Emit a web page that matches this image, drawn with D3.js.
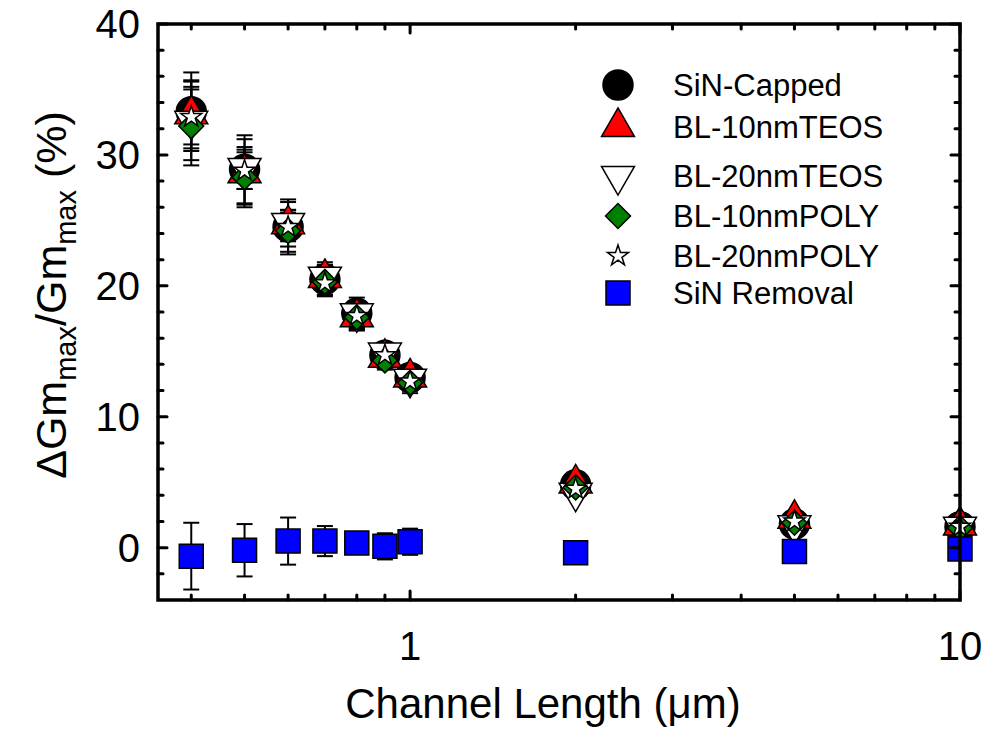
<!DOCTYPE html>
<html><head><meta charset="utf-8">
<script src="https://cdn.jsdelivr.net/npm/d3@7"></script>
<style>body{margin:0;background:#fff}svg{display:block}text{font-family:"Liberation Sans",Arial,sans-serif;fill:#000}</style>
</head><body><svg id="c" width="985" height="747"></svg>
<script>
const lengths = [0.4, 0.5, 0.6, 0.7, 0.8, 0.9, 1, 2, 5, 10];
const sinCapped    = [33.3, 28.9, 24.5, 20.5, 17.9, 14.7, 13.0, 4.8, 1.8, 1.6];
const sinCappedErr = [3.0, 2.6, 2.1, 1.3, 1.2, 0.8, 0.9, 0.3, 0.3, 0.3];
const bl10Teos     = [33.1, 28.6, 24.7, 20.6, 17.6, 14.5, 13.0, 4.9, 2.2, 1.7];
const bl10TeosErr  = [2.6, 2.6, 1.7, 1.0, 1.0, 0.7, 0.8, 0.3, 0.3, 0.3];
const bl20Teos     = [32.6, 29.0, 24.8, 20.7, 17.9, 14.9, 12.9, 4.2, 1.7, 1.6];
const bl20TeosErr  = [3.0, 1.6, 1.0, 0.9, 0.9, 0.6, 0.7, 0.3, 0.3, 0.3];
const bl10Poly     = [32.2, 28.3, 24.2, 20.3, 17.6, 14.3, 12.6, 4.6, 1.9, 1.5];
const bl10PolyErr  = [3.0, 2.1, 1.6, 1.0, 1.0, 0.7, 0.8, 0.3, 0.3, 0.3];
const bl20Poly     = [32.9, 28.8, 24.5, 20.2, 17.7, 14.7, 12.7, 4.5, 2.0, 1.6];
const bl20PolyErr  = [2.1, 1.4, 1.1, 0.9, 0.9, 0.6, 0.7, 0.3, 0.3, 0.3];
const sinRemoval    = [-0.65, -0.2, 0.5, 0.5, 0.35, 0.1, 0.45, -0.4, -0.3, -0.1];
const sinRemovalErr = [2.55, 2.0, 1.8, 1.15, 0.5, 1.0, 1.0, 0.3, 0.3, 0.3];

const seriesNames = ["SiN-Capped", "BL-10nmTEOS", "BL-20nmTEOS", "BL-10nmPOLY", "BL-20nmPOLY", "SiN Removal"];
const yTickLabels = [0, 10, 20, 30, 40];
const xTickLabels = [1, 10];
const xMinorTicks = [0.4, 0.5, 0.6, 0.7, 0.8, 0.9, 2, 3, 4, 5, 6, 7, 8, 9];
const yMinorTicks = [-2, 2, 4, 6, 8, 12, 14, 16, 18, 22, 24, 26, 28, 32, 34, 36, 38];

const L = 158, R = 960, T = 24, B = 600;
const x = d3.scaleLog().domain([0.348, 10]).range([L, R]);
const y = d3.scaleLinear().domain([-4, 40]).range([B, T]);
const svg = d3.select("#c");

const series = [
  {name: seriesNames[0], v: sinCapped, e: sinCappedErr, type: d3.symbolCircle, size: 707, fill: "#000", rot: 0},
  {name: seriesNames[1], v: bl10Teos, e: bl10TeosErr, type: d3.symbolTriangle, size: 471, fill: "#ff0000", rot: 0},
  {name: seriesNames[2], v: bl20Teos, e: bl20TeosErr, type: d3.symbolTriangle, size: 471, fill: "#fff", rot: 180},
  {name: seriesNames[3], v: bl10Poly, e: bl10PolyErr, type: d3.symbolSquare, size: 312, fill: "#008000", rot: 45},
  {name: seriesNames[4], v: bl20Poly, e: bl20PolyErr, type: d3.symbolStar, size: 136, fill: "#fff", rot: 0},
  {name: seriesNames[5], v: sinRemoval, e: sinRemovalErr, type: d3.symbolSquare, size: 576, fill: "#0000ff", rot: 0}
];

// error bars
const eg = svg.append("g");
series.forEach(s => {
  lengths.forEach((len, i) => {
    const cx = x(len), y1 = y(s.v[i] + s.e[i]), y2 = y(s.v[i] - s.e[i]);
    eg.append("line").attr("x1", cx).attr("x2", cx).attr("y1", y1).attr("y2", y2).attr("stroke", "#000").attr("stroke-width", 2);
    [y1, y2].forEach(yy => eg.append("line").attr("x1", cx - 8).attr("x2", cx + 8).attr("y1", yy).attr("y2", yy).attr("stroke", "#000").attr("stroke-width", 2));
  });
});

// markers
series.forEach(s => {
  const sym = d3.symbol().type(s.type).size(s.size);
  svg.append("g").selectAll("path").data(lengths).join("path")
    .attr("d", sym)
    .attr("transform", (d, i) => `translate(${x(d)},${y(s.v[i])}) rotate(${s.rot})`)
    .attr("fill", s.fill).attr("stroke", "#000").attr("stroke-width", 1.5);
});

// frame
svg.append("rect").attr("x", L).attr("y", T).attr("width", R - L).attr("height", B - T)
  .attr("fill", "none").attr("stroke", "#000").attr("stroke-width", 3.5);

// ticks (inward, all four sides)
const tg = svg.append("g").attr("stroke", "#000").attr("stroke-width", 3).attr("stroke-linecap", "round");
function xTick(v, len) {
  tg.append("line").attr("x1", x(v)).attr("x2", x(v)).attr("y1", B).attr("y2", B - len);
  tg.append("line").attr("x1", x(v)).attr("x2", x(v)).attr("y1", T).attr("y2", T + len);
}
function yTick(v, len) {
  tg.append("line").attr("y1", y(v)).attr("y2", y(v)).attr("x1", L).attr("x2", L + len);
  tg.append("line").attr("y1", y(v)).attr("y2", y(v)).attr("x1", R).attr("x2", R - len);
}
xMinorTicks.forEach(v => xTick(v, 5));
xTickLabels.forEach(v => xTick(v, 9));
yMinorTicks.forEach(v => yTick(v, 5));
yTickLabels.forEach(v => yTick(v, 9));

// tick labels
svg.append("g").selectAll("text").data(yTickLabels).join("text")
  .attr("x", L - 18).attr("y", d => y(d)).attr("text-anchor", "end").attr("dominant-baseline", "central")
  .attr("font-size", 40).text(d => d);
svg.append("g").selectAll("text").data(xTickLabels).join("text")
  .attr("x", d => x(d)).attr("y", 660).attr("text-anchor", "middle")
  .attr("font-size", 40).text(d => d);

// axis titles
svg.append("text").attr("x", 543).attr("y", 718).attr("text-anchor", "middle").attr("font-size", 42)
  .text("Channel Length (\u03bcm)");
const yt = svg.append("text").attr("transform", "translate(66,295) rotate(-90)").attr("text-anchor", "middle").attr("font-size", 43);
yt.append("tspan").text("\u0394Gm");
yt.append("tspan").attr("font-size", 29).attr("dy", 10).text("max");
yt.append("tspan").attr("dy", -10).text("/Gm");
yt.append("tspan").attr("font-size", 29).attr("dy", 10).text("max");
yt.append("tspan").attr("dy", -10).text(" (%)");

// legend
const legY = [85, 127, 176, 216, 256, 293];
series.forEach((s, i) => {
  svg.append("path").attr("d", d3.symbol().type(s.type).size(s.size))
    .attr("transform", `translate(618,${legY[i]}) rotate(${s.rot})`)
    .attr("fill", s.fill).attr("stroke", "#000").attr("stroke-width", 1.5);
  svg.append("text").attr("x", 673).attr("y", legY[i]).attr("dominant-baseline", "central")
    .attr("font-size", 31).text(s.name);
});
</script></body></html>
